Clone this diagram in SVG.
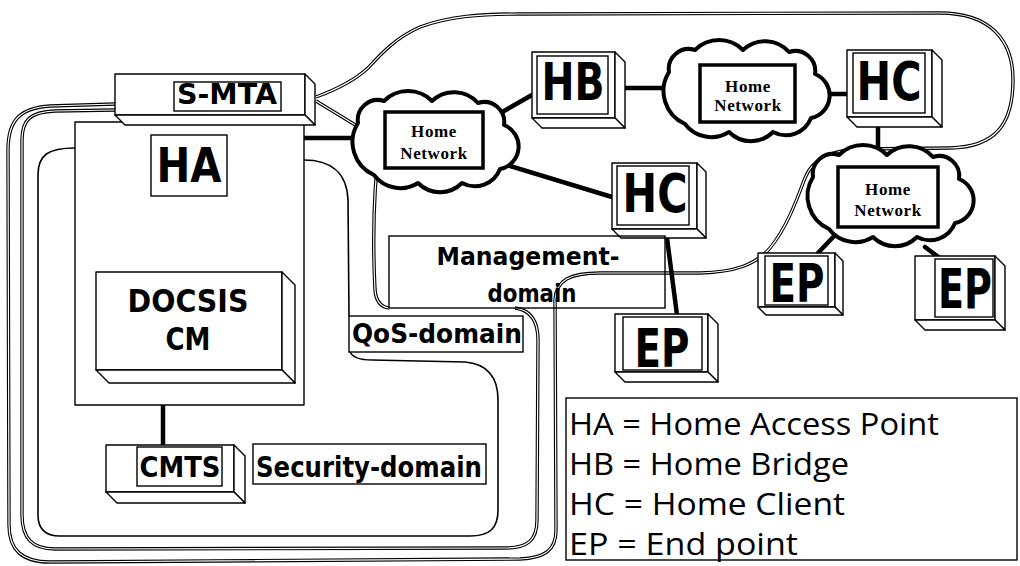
<svg xmlns="http://www.w3.org/2000/svg" width="1020" height="566" viewBox="0 0 1020 566">
<style>
.box{fill:#fff;stroke:#000;stroke-width:1.4;stroke-linejoin:round}
.lbl{fill:none;stroke:#000;stroke-width:1.4}
.big{font-family:"DejaVu Sans","Liberation Sans",sans-serif;font-weight:bold;fill:#000;text-anchor:middle}
.net{font-family:"Liberation Serif",serif;font-weight:bold;font-size:17px;letter-spacing:0.6px;text-anchor:middle;fill:#000}
.cloud{fill:#fff;stroke:#000;stroke-width:4;stroke-linejoin:round}
.nrect{fill:#fff;stroke:#000;stroke-width:3.5}
.link{stroke:#000;stroke-width:4.5;fill:none;stroke-linecap:round}
.dbl-o{fill:none;stroke:#000;stroke-width:3.4;stroke-linejoin:round}
.dbl-i{fill:none;stroke:#fff;stroke-width:1.2;stroke-linejoin:round}
.single{fill:none;stroke:#000;stroke-width:1.6}
.leg{font-family:"Open Sans","Liberation Sans",sans-serif;font-size:31px;fill:#000}
</style>
<defs>
  <path id="cloud" d="M -76,-18 A 20 20 0 0 1 -50,-40 A 34 34 0 0 1 -2,-40 A 32 32 0 0 1 44,-38 A 20 20 0 0 1 70,-16 A 23 23 0 0 1 66,28 A 27 27 0 0 1 28,42 A 31 31 0 0 1 -16,42 A 33 33 0 0 1 -60,34 A 36 36 0 0 1 -76,-18 Z"/>
  <!-- management domain boundary -->
  <path id="mgmt" d="M 316,97 C 335,90 355,80 368,68 C 380,55 395,38 420,27 C 450,16 480,14 520,14 L 940,13 C 990,13 1013,40 1013,80 C 1013,125 995,147 950,148 L 860,149 C 830,150 812,160 805,178 C 795,205 785,230 770,248 C 755,265 735,272 700,273 L 600,273 C 570,273 556,280 555,300 L 556,530 C 556,550 545,558 520,559 L 50,562 C 22,562 9,550 9,525 L 8,150 C 8,120 20,108 50,106 L 115,104"/>
  <!-- security domain boundary -->
  <path id="sec" d="M 316,101 L 380,140 C 372,200 373,250 375,290 C 376,302 381,307 389,308 M 515,308 C 530,310 538,320 538,340 L 537,520 C 537,540 528,548 505,548 L 55,549 C 32,549 22,538 22,515 L 22,140 C 22,120 30,112 55,111 L 115,110"/>
</defs>

<!-- domain boundaries -->
<g id="domains">
  <use href="#mgmt" class="dbl-o"/>
  <use href="#mgmt" class="dbl-i"/>
  <use href="#sec" class="dbl-o"/>
  <use href="#sec" class="dbl-i"/>
  <path class="single" d="M 304,160 C 330,160 347,172 348,200 L 349,316 M 350,352 C 353,358 360,360 372,360 L 465,362 C 488,364 498,378 498,400 L 498,510 C 498,528 490,536 470,536 L 60,536 C 45,536 38,528 38,515 L 38,175 C 38,155 48,148 75,148"/>
</g>

<!-- connectors -->
<g id="connectors">
  <line class="link" x1="304" y1="138" x2="352" y2="138"/>
  <line class="link" x1="497" y1="115" x2="532" y2="95"/>
  <line class="link" x1="507" y1="165" x2="612" y2="197"/>
  <line class="link" x1="625" y1="88" x2="665" y2="88"/>
  <line class="link" x1="827" y1="94" x2="847" y2="94"/>
  <line class="link" x1="878" y1="127" x2="878" y2="150"/>
  <line class="link" x1="837" y1="233" x2="818" y2="253"/>
  <line class="link" x1="925" y1="247" x2="945" y2="262"/>
  <line class="link" x1="667" y1="238" x2="677" y2="315"/>
  <line class="link" x1="163" y1="405" x2="163" y2="445"/>
</g>

<!-- HA with DOCSIS CM -->
<g id="ha">
  <rect class="box" x="75" y="122" width="229" height="283"/>
  <rect class="lbl" x="151" y="135" width="76" height="61"/>
  <text class="big" x="189" y="182" font-size="48" textLength="65" lengthAdjust="spacingAndGlyphs">HA</text>
</g>
<g id="docsis">
  <rect class="box" x="96" y="272" width="186" height="98"/>
  <polygon class="box" points="282,272 295,285 295,383 282,370"/>
  <polygon class="box" points="96,370 282,370 295,383 109,383"/>
  <text class="big" x="188" y="312" font-size="32" textLength="121" lengthAdjust="spacingAndGlyphs">DOCSIS</text>
  <text class="big" x="188" y="350" font-size="32" textLength="45" lengthAdjust="spacingAndGlyphs">CM</text>
</g>

<!-- S-MTA -->
<g id="smta">
  <rect class="box" x="115" y="74" width="190" height="41"/>
  <polygon class="box" points="305,74 315,84 315,125 305,115"/>
  <polygon class="box" points="115,115 305,115 315,125 125,125"/>
  <rect class="lbl" x="174" y="82" width="107" height="29"/>
  <text class="big" x="227" y="104" font-size="28" textLength="100" lengthAdjust="spacingAndGlyphs">S-MTA</text>
</g>

<!-- CMTS -->
<g id="cmts">
  <rect class="box" x="106" y="445" width="128" height="47"/>
  <polygon class="box" points="234,445 245,456 245,503 234,492"/>
  <polygon class="box" points="106,492 234,492 245,503 117,503"/>
  <rect class="lbl" x="137" y="447" width="85" height="39"/>
  <text class="big" x="180" y="477" font-size="29" textLength="81" lengthAdjust="spacingAndGlyphs">CMTS</text>
</g>

<!-- home networks -->
<g id="net1">
  <use href="#cloud" x="434" y="141" class="cloud"/>
  <rect class="nrect" x="385" y="112" width="98" height="56"/>
  <text class="net" x="434" y="137">Home</text>
  <text class="net" x="434" y="159">Network</text>
</g>
<g id="net2">
  <use href="#cloud" x="745" y="90" class="cloud"/>
  <rect class="nrect" x="700" y="65" width="95" height="57"/>
  <text class="net" x="748" y="92">Home</text>
  <text class="net" x="748" y="111">Network</text>
</g>
<g id="net3">
  <use href="#cloud" x="889" y="195" class="cloud"/>
  <rect class="nrect" x="838" y="167" width="100" height="60"/>
  <text class="net" x="888" y="195">Home</text>
  <text class="net" x="888" y="216">Network</text>
</g>

<!-- HB -->
<g id="hb">
  <rect class="box" x="532" y="52" width="83" height="66"/>
  <polygon class="box" points="615,52 625,62 625,128 615,118"/>
  <polygon class="box" points="532,118 615,118 625,128 542,128"/>
  <rect class="lbl" x="537" y="56" width="71" height="58"/>
  <text class="big" x="573" y="100" font-size="51" textLength="63" lengthAdjust="spacingAndGlyphs">HB</text>
</g>

<!-- HC (middle) -->
<g id="hc1">
  <rect class="box" x="612" y="163" width="85" height="66"/>
  <polygon class="box" points="697,163 706,172 706,238 697,229"/>
  <polygon class="box" points="612,229 697,229 706,238 621,238"/>
  <rect class="lbl" x="617" y="166" width="72" height="59"/>
  <text class="big" x="655" y="212" font-size="53" textLength="65" lengthAdjust="spacingAndGlyphs">HC</text>
</g>

<!-- HC (right) -->
<g id="hc2">
  <rect class="box" x="847" y="50" width="85" height="67"/>
  <polygon class="box" points="932,50 942,60 942,127 932,117"/>
  <polygon class="box" points="847,117 932,117 942,127 857,127"/>
  <rect class="lbl" x="853" y="53" width="72" height="60"/>
  <text class="big" x="889" y="100" font-size="54" textLength="65" lengthAdjust="spacingAndGlyphs">HC</text>
</g>

<!-- end points -->
<g id="ep1">
  <rect class="box" x="615" y="314" width="93" height="58"/>
  <polygon class="box" points="708,314 718,324 718,382 708,372"/>
  <polygon class="box" points="615,372 708,372 718,382 625,382"/>
  <rect class="lbl" x="623" y="317" width="79" height="53"/>
  <text class="big" x="662" y="367" font-size="53" textLength="55" lengthAdjust="spacingAndGlyphs">EP</text>
</g>
<g id="ep2">
  <rect class="box" x="758" y="253" width="77" height="54"/>
  <polygon class="box" points="835,253 843,261 843,315 835,307"/>
  <polygon class="box" points="758,307 835,307 843,315 766,315"/>
  <rect class="lbl" x="765" y="256" width="63" height="49"/>
  <text class="big" x="797" y="302" font-size="53" textLength="55" lengthAdjust="spacingAndGlyphs">EP</text>
</g>
<g id="ep3">
  <rect class="box" x="915" y="256" width="80" height="64"/>
  <polygon class="box" points="995,256 1005,266 1005,330 995,320"/>
  <polygon class="box" points="915,320 995,320 1005,330 925,330"/>
  <rect class="lbl" x="935" y="259" width="58" height="58"/>
  <text class="big" x="965" y="308" font-size="55" textLength="54" lengthAdjust="spacingAndGlyphs">EP</text>
</g>

<!-- domain labels -->
<g id="mgmt-label">
  <rect class="lbl" x="389" y="236" width="276" height="72"/>
  <text class="big" x="528" y="265" font-size="24" textLength="183" lengthAdjust="spacingAndGlyphs">Management-</text>
  <text class="big" x="532" y="302" font-size="24" textLength="89" lengthAdjust="spacingAndGlyphs">domain</text>
</g>
<g id="qos-label">
  <rect class="lbl" x="349" y="316" width="174" height="36"/>
  <text class="big" x="437" y="343" font-size="27" textLength="170" lengthAdjust="spacingAndGlyphs">QoS-domain</text>
</g>
<g id="sec-label">
  <rect class="lbl" x="253" y="444" width="233" height="40"/>
  <text class="big" x="369" y="477" font-size="29" textLength="226" lengthAdjust="spacingAndGlyphs">Security-domain</text>
</g>

<!-- legend -->
<g id="legend">
  <rect class="lbl" x="566" y="398" width="451" height="162"/>
  <text class="leg" x="569" y="435" textLength="370" lengthAdjust="spacingAndGlyphs">HA = Home Access Point</text>
  <text class="leg" x="569" y="475" textLength="280" lengthAdjust="spacingAndGlyphs">HB = Home Bridge</text>
  <text class="leg" x="569" y="515" textLength="276" lengthAdjust="spacingAndGlyphs">HC = Home Client</text>
  <text class="leg" x="569" y="555" textLength="229" lengthAdjust="spacingAndGlyphs">EP = End point</text>
</g>
</svg>
